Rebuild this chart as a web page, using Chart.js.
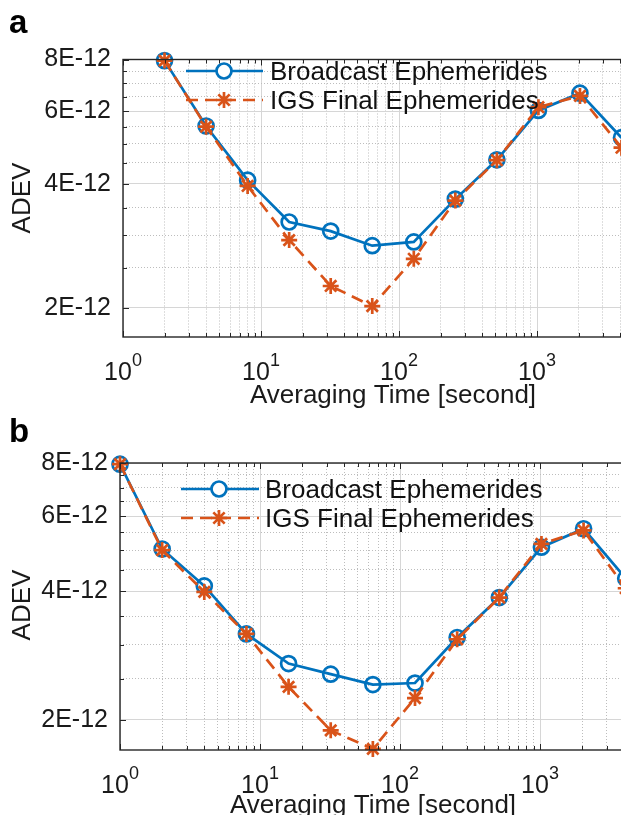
<!DOCTYPE html>
<html>
<head>
<meta charset="utf-8">
<script src="https://cdn.jsdelivr.net/npm/chart.js@4.4.1/dist/chart.umd.min.js"></script>
<style>
  html, body { margin: 0; padding: 0; background: #fff; overflow: hidden; width: 621px; height: 815px; }
  .panel { position: absolute; left: 0; }
  #chartA { top: 0; }
  #chartB { top: 410px; }
</style>
</head>
<body>
<canvas id="chartA" class="panel" width="700" height="410"></canvas>
<canvas id="chartB" class="panel" width="700" height="405"></canvas>
<script>
// Panel a data (averaging time in s, ADEV)
const tauA = [2, 4, 8, 16, 32, 64, 128, 256, 512, 1024, 2048, 4096];
const broadcastA = [7.95e-12, 5.52e-12, 4.08e-12, 3.23e-12, 3.07e-12, 2.83e-12, 2.89e-12, 3.67e-12, 4.57e-12, 6.02e-12, 6.63e-12, 5.17e-12];
const igsA = [7.95e-12, 5.50e-12, 3.95e-12, 2.92e-12, 2.26e-12, 2.02e-12, 2.63e-12, 3.64e-12, 4.56e-12, 6.13e-12, 6.53e-12, 4.89e-12];

// Panel b data
const tauB = [1, 2, 4, 8, 16, 32, 64, 128, 256, 512, 1024, 2048, 4096];
const broadcastB = [7.95e-12, 5.03e-12, 4.12e-12, 3.18e-12, 2.71e-12, 2.56e-12, 2.42e-12, 2.44e-12, 3.12e-12, 3.87e-12, 5.08e-12, 5.61e-12, 4.29e-12];
const igsB = [7.95e-12, 5.00e-12, 3.99e-12, 3.18e-12, 2.39e-12, 1.89e-12, 1.71e-12, 2.25e-12, 3.09e-12, 3.87e-12, 5.17e-12, 5.56e-12, 4.07e-12];

// ticks
const xDecades = [1, 10, 100, 1000, 10000];
const xTickValues = [1, 2, 3, 4, 5, 6, 7, 8, 9, 10, 20, 30, 40, 50, 60, 70, 80, 90,
  100, 200, 300, 400, 500, 600, 700, 800, 900, 1000, 2000, 3000, 4000, 5000, 6000, 7000, 8000, 9000, 10000];
const yTickValues = [2e-12, 2.5e-12, 3e-12, 3.5e-12, 4e-12, 4.5e-12, 5e-12, 5.5e-12, 6e-12, 6.5e-12, 7e-12, 7.5e-12, 8e-12];
const yTickLabels = ["2E-12", "4E-12", "6E-12", "8E-12"];

const legendLabels = ["Broadcast Ephemerides", "IGS Final Ephemerides"];
const BLUE = "#0072BD";
const ORANGE = "#D95319";
const FONT = "'Liberation Sans', Arial, sans-serif";
const LW = 2.7;

const isDecade = (v) => Math.abs(Math.log10(v) - Math.round(Math.log10(v))) < 1e-6;
const yLabel = (v) => {
  const s = (Math.round(v * 1e13) / 10) + "E-12";
  return yTickLabels.includes(s) ? s : "";
};

function drawStar(ctx, x, y, r) {
  ctx.beginPath();
  for (let i = 0; i < 4; i++) {
    const a = i * Math.PI / 4;
    ctx.moveTo(x - r * Math.cos(a), y - r * Math.sin(a));
    ctx.lineTo(x + r * Math.cos(a), y + r * Math.sin(a));
  }
  ctx.stroke();
}

const decor = {
  id: "decor",
  afterDraw(chart, args, o) {
    const { ctx, chartArea: a, scales: { x, y } } = chart;
    ctx.save();
    // inward tick marks
    ctx.strokeStyle = "#262626";
    ctx.lineWidth = 1;
    ctx.beginPath();
    x.ticks.forEach((t) => {
      const px = Math.round(x.getPixelForValue(t.value)) + 0.5;
      const len = isDecade(t.value) ? 6 : 4;
      ctx.moveTo(px, a.bottom); ctx.lineTo(px, a.bottom - len);
      ctx.moveTo(px, a.top); ctx.lineTo(px, a.top + len);
    });
    y.ticks.forEach((t) => {
      const py = Math.round(y.getPixelForValue(t.value)) + 0.5;
      const len = yLabel(t.value) ? 6 : 4;
      ctx.moveTo(a.left, py); ctx.lineTo(a.left + len, py);
    });
    ctx.stroke();
    // box
    ctx.lineWidth = 1.4;
    ctx.strokeRect(a.left, a.top, a.right - a.left, a.bottom - a.top);

    // x tick labels 10^k
    ctx.fillStyle = "#1a1a1a";
    ctx.textBaseline = "alphabetic";
    xDecades.forEach((v, k) => {
      const px = x.getPixelForValue(v);
      ctx.font = "25px " + FONT;
      const w1 = ctx.measureText("10").width;
      ctx.font = "18px " + FONT;
      const w2 = ctx.measureText(String(k)).width;
      const x0 = px - (w1 + w2) / 2;
      ctx.textAlign = "left";
      ctx.font = "25px " + FONT;
      ctx.fillText("10", x0, o.xLabelY);
      ctx.font = "18px " + FONT;
      ctx.fillText(String(k), x0 + w1, o.xLabelY - 14);
    });

    // axis titles
    ctx.font = "26px " + FONT;
    ctx.textAlign = "center";
    ctx.fillText("Averaging Time [second]", o.titleX, o.titleY);
    ctx.save();
    ctx.translate(21 + 9, o.yTitleY);
    ctx.rotate(-Math.PI / 2);
    ctx.fillText("ADEV", 0, 0);
    ctx.restore();

    // panel letter
    ctx.font = "bold 33px " + FONT;
    ctx.textAlign = "left";
    ctx.fillStyle = "#000";
    ctx.fillText(o.letter, 9, o.letterY);

    // legend
    const L = o.legend;
    ctx.lineWidth = LW;
    ctx.font = "26px " + FONT;
    // blue row
    ctx.strokeStyle = BLUE;
    ctx.setLineDash([]);
    ctx.beginPath(); ctx.moveTo(L.x0, L.y1); ctx.lineTo(L.x1, L.y1); ctx.stroke();
    ctx.fillStyle = "#fff";
    ctx.beginPath(); ctx.arc(L.xm, L.y1, 7.5, 0, Math.PI * 2); ctx.fill(); ctx.stroke();
    ctx.fillStyle = "#111";
    ctx.fillText(legendLabels[0], L.xt, L.y1 + 9);
    // orange row
    ctx.strokeStyle = ORANGE;
    ctx.setLineDash([12, 7]);
    ctx.beginPath(); ctx.moveTo(L.x0, L.y2); ctx.lineTo(L.x1, L.y2); ctx.stroke();
    ctx.setLineDash([]);
    drawStar(ctx, L.xm, L.y2, 8);
    ctx.fillText(legendLabels[1], L.xt, L.y2 + 9);
    ctx.restore();
  }
};

function makeChart(id, tau, blue, orange, lay) {
  return new Chart(document.getElementById(id), {
    type: "line",
    data: {
      datasets: [
        {
          label: legendLabels[0],
          data: tau.map((t, i) => ({ x: t, y: blue[i] })),
          borderColor: BLUE,
          backgroundColor: "rgba(0,0,0,0)",
          borderWidth: LW,
          pointStyle: "circle",
          pointRadius: 7.5,
          pointBorderWidth: LW,
          pointBackgroundColor: "rgba(0,0,0,0)",
          tension: 0,
          clip: false,
          order: 2,
        },
        {
          label: legendLabels[1],
          data: tau.map((t, i) => ({ x: t, y: orange[i] })),
          borderColor: ORANGE,
          backgroundColor: "rgba(0,0,0,0)",
          borderWidth: LW,
          borderDash: [12, 7],
          pointStyle: "star",
          pointRadius: 8,
          pointBorderWidth: LW,
          tension: 0,
          clip: false,
          order: 1,
        },
      ],
    },
    options: {
      responsive: false,
      animation: false,
      layout: { padding: { top: lay.top, right: lay.right, left: 0, bottom: 0 } },
      plugins: {
        legend: { display: false },
        tooltip: { enabled: false },
        decor: lay.decor,
      },
      scales: {
        x: {
          type: "logarithmic",
          min: 1,
          max: 10000,
          bounds: "data",
          afterBuildTicks: (s) => { s.ticks = xTickValues.map((v) => ({ value: v })); },
          afterFit: (s) => { s.height = lay.xHeight; },
          ticks: { display: false },
          grid: {
            drawTicks: false,
            color: (c) => (c.tick && isDecade(c.tick.value) ? "#d6d6d6" : "#bdbdbd"),
            lineWidth: 1,
          },
          border: {
            display: false,
            dash: (c) => (c.tick && !isDecade(c.tick.value) ? [1, 2] : []),
          },
        },
        y: {
          type: "logarithmic",
          min: 1.7e-12,
          max: 8e-12,
          bounds: "data",
          afterBuildTicks: (s) => { s.ticks = yTickValues.map((v) => ({ value: v })); },
          afterFit: (s) => { s.width = lay.yWidth; },
          ticks: {
            autoSkip: false,
            padding: 12,
            color: "#1a1a1a",
            font: { family: FONT, size: 25 },
            callback: (v) => yLabel(v),
          },
          grid: {
            drawTicks: false,
            color: (c) => (c.tick && yLabel(c.tick.value) ? "#d6d6d6" : "#bdbdbd"),
            lineWidth: 1,
          },
          border: {
            display: false,
            dash: (c) => (c.tick && !yLabel(c.tick.value) ? [1, 2] : []),
          },
        },
      },
    },
    plugins: [decor],
  });
}

makeChart("chartA", tauA, broadcastA, igsA, {
  top: 59.5, right: 25, xHeight: 73, yWidth: 123,
  decor: {
    letter: "a", letterY: 33, xLabelY: 380, titleX: 393, titleY: 403, yTitleY: 198,
    legend: { x0: 186, x1: 263, xm: 224, xt: 270, y1: 71, y2: 100 },
  },
});

makeChart("chartB", tauB, broadcastB, igsB, {
  top: 53, right: 20, xHeight: 65, yWidth: 120,
  decor: {
    letter: "b", letterY: 32, xLabelY: 383, titleX: 373, titleY: 403, yTitleY: 195,
    legend: { x0: 181, x1: 259, xm: 219, xt: 265, y1: 79, y2: 108 },
  },
});
</script>
</body>
</html>
